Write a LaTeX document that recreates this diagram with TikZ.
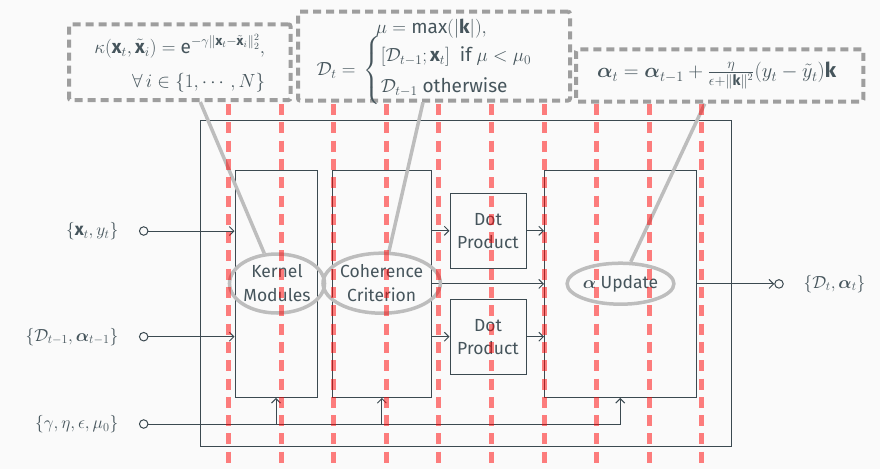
\RequirePackage{fix-cm}
\documentclass[tikz,border=0pt]{standalone}
\usepackage{amsmath,amssymb,bm}
\usepackage{fontspec}
\setmainfont{Fira Sans}
\usetikzlibrary{shapes.geometric,arrows.meta,calc}
\definecolor{bg}{HTML}{FAFAFA}
\definecolor{ln}{HTML}{3B4950}
\definecolor{tx}{HTML}{46555C}
\definecolor{callout}{HTML}{9E9E9E}
\definecolor{hl}{HTML}{BDBDBD}
\begin{document}
\begin{tikzpicture}[x=1pt,y=-1pt,
  every node/.style={font=\fontsize{17.5pt}{24pt}\selectfont, text=tx},
  blk/.style={draw=ln, line width=1pt, inner sep=0pt, align=center},
  conn/.style={draw=ln, line width=1pt, -{Straight Barb[length=4.5pt,width=9pt]}},
  port/.style={circle, draw=ln, line width=1pt, minimum size=8.5pt, inner sep=0pt},
  lbl/.style={inner sep=0pt},
  mathlbl/.style={inner sep=0pt, font=\fontsize{19pt}{26pt}\selectfont},
  hlell/.style={ellipse, draw=hl, line width=3.5pt, inner sep=0pt, align=center},
  hlline/.style={draw=hl, line width=3.5pt},
  cbox/.style={draw=callout, fill=bg, line width=4pt, dash pattern=on 8pt off 5pt, rounded corners=2pt, inner sep=0pt},
  reddash/.style={draw=red, opacity=0.5, line width=5pt, dash pattern=on 11pt off 7.3pt}
]
\fill[bg] (0,0) rectangle (880,469);
\useasboundingbox (0,0) rectangle (880,469);

% outer box and blocks
\node[blk, minimum width=530.5pt, minimum height=326pt] (outer) at (465.75,283.7) {};
\node[blk, minimum width=82pt, minimum height=227pt] (km) at (276,283.9) {};
\node[blk, minimum width=98.3pt, minimum height=227pt] (cc) at (381.85,283.9) {};
\node[blk, minimum width=151.5pt, minimum height=227pt] (au) at (620.25,283.9) {};
\node[blk, minimum width=76pt, minimum height=75pt] (d1) at (488,230.8) {Dot\\[-1pt]Product};
\node[blk, minimum width=76pt, minimum height=75pt] (d2) at (488,336.7) {Dot\\[-1pt]Product};

% ports and labels
\node[port] (c1) at (143.7,231) {};
\node[port] (c2) at (143.7,336.7) {};
\node[port] (c3) at (143.7,424) {};
\node[port] (oc) at (779,283.9) {};
\node[lbl, anchor=east] (l1) at (118.5,231) {$\{\mathbf{x}_t, y_t\}$};
\node[lbl, anchor=east] (l2) at (118.5,336.7) {$\{\mathcal{D}_{t-1}, \boldsymbol{\alpha}_{t-1}\}$};
\node[lbl, anchor=east] (l3) at (118.5,424) {$\{\gamma, \eta, \epsilon, \mu_0\}$};
\node[lbl, anchor=west] (lo) at (803.5,283.9) {$\{\mathcal{D}_t, \boldsymbol{\alpha}_t\}$};

% connectors
\draw[conn] (c1.east) -- (c1 -| km.west);
\draw[conn] (c2.east) -- (c2 -| km.west);
\draw[conn] (c3.east) -| (au.south);
\draw[conn] (c3 -| km.south) -- (km.south);
\draw[conn] (c3 -| cc.south) -- (cc.south);
\draw[conn] (cc.east |- d1) -- (d1.west);
\draw[conn] (cc.east |- d2) -- (d2.west);
\draw[conn] (cc.east) -- (au.west);
\draw[conn] (d1.east) -- (d1 -| au.west);
\draw[conn] (d2.east) -- (d2 -| au.west);
\draw[conn] (au.east) -- (oc.west);

% highlighted ellipses
\node[hlell, minimum width=79pt, minimum height=59pt] (kme) at (277,283.5) {Kernel\\[0pt]Modules};
\node[hlell, minimum width=100pt, minimum height=60pt] (cce) at (381.7,283.2) {Coherence\\[0pt]Criterion};
\node[hlell, minimum width=99pt, minimum height=41pt] (aue) at (620.5,283.7) {$\boldsymbol{\alpha}$ Update};

% callout boxes
\node[cbox, minimum width=221.5pt, minimum height=75.7pt] (cb1) at (179.75,62.15) {};
\node[cbox, minimum width=272pt, minimum height=88.8pt] (cb2) at (434,56.1) {};
\node[cbox, minimum width=287.3pt, minimum height=52.4pt] (cb3) at (719.65,75.5) {};
\coordinate (p1) at ($(cb1.south west)!0.591!(cb1.south east)$);
\coordinate (p2) at ($(cb2.south west)!0.46!(cb2.south east)$);
\coordinate (p3) at ($(cb3.south west)!0.449!(cb3.south east)$);
\draw[hlline] (p1) -- (kme);
\draw[hlline] (p2) -- (cce);
\draw[hlline] (p3) -- (aue);
\node[mathlbl] (t1) at ($(cb1)+(0,3)$) {$\begin{aligned}\kappa(\mathbf{x}_t,\tilde{\mathbf{x}}_i) = \mathrm{e}^{-\gamma\|\mathbf{x}_t-\tilde{\mathbf{x}}_i\|_2^2},\\[5pt] \forall\, i\in\{1,\cdots,N\}\end{aligned}$};
\node[mathlbl] (t2) at ($(cb2)+(0,4)$) {$\begin{aligned}&\hspace{0.8em}\mu=\max(|\mathbf{k}|),\\[-9pt] \mathcal{D}_t={}&\begin{cases}[\mathcal{D}_{t-1};\mathbf{x}_t]\ \ \text{if }\mu<\mu_0\\ \mathcal{D}_{t-1}\ \text{otherwise}\end{cases}\end{aligned}$};
\node[mathlbl, font=\fontsize{20.5pt}{26pt}\selectfont] (t3) at ($(cb3)+(-3,0)$) {$\boldsymbol{\alpha}_t=\boldsymbol{\alpha}_{t-1}+\tfrac{\eta}{\epsilon+\|\mathbf{k}\|^2}(y_t-\tilde{y}_t)\mathbf{k}$};

% red dashed guides
\foreach \xx in {228.5,281.1,333.7,386.3,438.9,491.5,544.1,596.7,649.3,701.9}
  \draw[reddash] (\xx,104) -- (\xx,469);
\end{tikzpicture}
\end{document}
